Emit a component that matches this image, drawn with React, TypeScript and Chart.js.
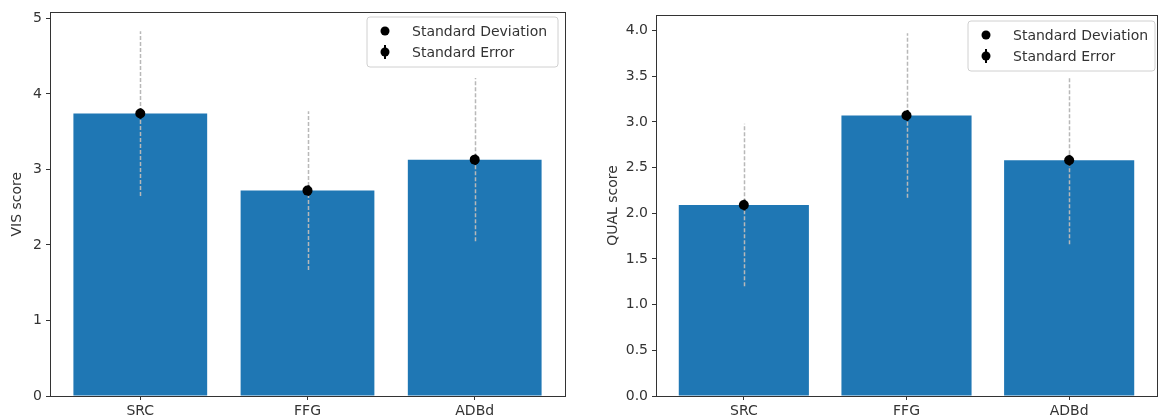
import React, { useEffect, useRef } from "react";
import { Chart, registerables } from "chart.js";

Chart.register(...registerables);

const categories = ["SRC", "FFG", "ADBd"];
const categoryPositions = [0, 1, 2];

const visMeans = [3.74, 2.72, 3.13];
const visSD = [1.09, 1.05, 1.08];
const visSE = [0.07, 0.07, 0.07];
const visTicks = [0, 1, 2, 3, 4, 5];
const visMax = 5.08;

const qualMeans = [2.09, 3.07, 2.58];
const qualSD = [0.89, 0.9, 0.92];
const qualSE = [0.06, 0.06, 0.06];
const qualTicks = [0, 0.5, 1.0, 1.5, 2.0, 2.5, 3.0, 3.5, 4.0];
const qualMax = 4.17;

const legendLabels = ["Standard Deviation", "Standard Error"];

const BAR_COLOR = "#1f77b4";
const FONT = "'DejaVu Sans', sans-serif";

type PanelProps = {
  means: number[];
  sd: number[];
  se: number[];
  ticks: number[];
  max: number;
  title: string;
  titlePad: number;
  decimals: number;
  axisWidth: number;
  padTop: number;
  padRight: number;
  legend: { x: number; y: number; w: number; h: number };
  width: number;
  left: number;
};

function Panel(p: PanelProps) {
  const ref = useRef<HTMLCanvasElement | null>(null);
  useEffect(() => {
    if (!ref.current) return;
    const errPlugin = {
      id: "errbars",
      afterDatasetDraw(chart: any, args: any) {
        if (args.index !== 0) return;
        const { ctx } = chart;
        const xs = chart.scales.x;
        const ys = chart.scales.y;
        ctx.save();
        p.means.forEach((m, i) => {
          const x = Math.round(xs.getPixelForValue(categoryPositions[i])) + 0.5;
          ctx.strokeStyle = "#b8b8b8";
          ctx.lineWidth = 1.5;
          ctx.setLineDash([4, 2]);
          ctx.beginPath();
          ctx.moveTo(x, ys.getPixelForValue(m - p.sd[i]));
          ctx.lineTo(x, ys.getPixelForValue(m + p.sd[i]));
          ctx.stroke();
          ctx.setLineDash([]);
          ctx.strokeStyle = "#000";
          ctx.lineWidth = 2;
          ctx.beginPath();
          ctx.moveTo(x, ys.getPixelForValue(m - p.se[i]));
          ctx.lineTo(x, ys.getPixelForValue(m + p.se[i]));
          ctx.stroke();
        });
        ctx.restore();
      },
      afterDraw(chart: any) {
        const { ctx, chartArea } = chart;
        ctx.save();
        ctx.strokeStyle = "#333";
        ctx.lineWidth = 1;
        ctx.strokeRect(
          Math.round(chartArea.left) + 0.5,
          Math.round(chartArea.top) + 0.5,
          Math.round(chartArea.right - chartArea.left),
          Math.round(chartArea.bottom - chartArea.top)
        );
        const L = p.legend;
        ctx.strokeStyle = "#d0d0d0";
        ctx.fillStyle = "rgba(255,255,255,0.8)";
        ctx.lineWidth = 1;
        const r = 3;
        ctx.beginPath();
        ctx.moveTo(L.x + r, L.y);
        ctx.arcTo(L.x + L.w, L.y, L.x + L.w, L.y + L.h, r);
        ctx.arcTo(L.x + L.w, L.y + L.h, L.x, L.y + L.h, r);
        ctx.arcTo(L.x, L.y + L.h, L.x, L.y, r);
        ctx.arcTo(L.x, L.y, L.x + L.w, L.y, r);
        ctx.closePath();
        ctx.fill();
        ctx.stroke();
        ctx.font = `14px ${FONT}`;
        ctx.textBaseline = "middle";
        legendLabels.forEach((lab, i) => {
          const cy = L.y + 14 + i * 21;
          const cx = L.x + 18;
          ctx.fillStyle = "#000";
          ctx.beginPath();
          ctx.arc(cx, cy, 4.5, 0, Math.PI * 2);
          ctx.fill();
          if (i === 1) {
            ctx.strokeStyle = "#000";
            ctx.lineWidth = 2;
            ctx.beginPath();
            ctx.moveTo(cx, cy - 7);
            ctx.lineTo(cx, cy + 7);
            ctx.stroke();
          }
          ctx.fillStyle = "#333";
          ctx.fillText(lab, L.x + 45, cy + 1);
        });
        ctx.restore();
      },
    };

    const chart = new Chart(ref.current, {
      type: "bar",
      data: {
        datasets: [
          {
            type: "bar",
            data: p.means.map((m, i) => ({ x: categoryPositions[i], y: m })),
            backgroundColor: BAR_COLOR,
            borderWidth: 0,
            barPercentage: 0.8,
            categoryPercentage: 1.0,
            order: 2,
          } as any,
          {
            type: "line",
            data: p.means.map((m, i) => ({ x: categoryPositions[i], y: m })),
            showLine: false,
            pointRadius: 5,
            pointBackgroundColor: "#000",
            pointBorderColor: "#000",
            pointBorderWidth: 0,
            order: 1,
          } as any,
        ],
      },
      options: {
        animation: false,
        responsive: false,
        maintainAspectRatio: false,
        layout: { padding: { top: p.padTop, right: p.padRight, left: 0, bottom: 0 } },
        plugins: { legend: { display: false }, tooltip: { enabled: false } },
        scales: {
          x: {
            type: "linear",
            min: -0.54,
            max: 2.54,
            offset: false,
            afterBuildTicks: (s: any) => {
              s.ticks = categoryPositions.map((v) => ({ value: v }));
            },
            afterFit: (s: any) => {
              s.height = 22;
            },
            ticks: {
              callback: (v: any) => categories[categoryPositions.indexOf(Number(v))] ?? "",
              font: { family: FONT, size: 14 },
              color: "#333",
              padding: 3,
              maxRotation: 0,
              autoSkip: false,
            },
            grid: { display: true, offset: false, drawOnChartArea: false, drawTicks: true, tickLength: 4, color: "#333" },
            border: { display: true, color: "#333", width: 1 },
          },
          y: {
            min: 0,
            max: p.max,
            afterBuildTicks: (s: any) => {
              s.ticks = p.ticks.map((v) => ({ value: v }));
            },
            afterFit: (s: any) => {
              s.width = p.axisWidth;
            },
            ticks: {
              callback: (v: any) => Number(v).toFixed(p.decimals),
              font: { family: FONT, size: 14 },
              color: "#333",
              padding: 4,
            },
            title: {
              display: true,
              text: p.title,
              font: { family: FONT, size: 14 },
              color: "#333",
              padding: { top: p.titlePad, bottom: 4 },
            },
            grid: { display: true, offset: false, drawOnChartArea: false, drawTicks: true, tickLength: 4, color: "#333" },
            border: { display: true, color: "#333", width: 1 },
          },
        },
      } as any,
      plugins: [errPlugin],
    });
    return () => chart.destroy();
  }, []);
  return (
    <canvas
      ref={ref}
      width={p.width}
      height={418}
      style={{ position: "absolute", left: p.left, top: 0, width: p.width, height: 418 }}
    />
  );
}

export default function App() {
  return (
    <div style={{ position: "absolute", left: 0, top: 0, width: 1162, height: 418, background: "#fff" }}>
      <Panel
        means={visMeans}
        sd={visSD}
        se={visSE}
        ticks={visTicks}
        max={visMax}
        title="VIS score"
        titlePad={9}
        decimals={0}
        axisWidth={50}
        padTop={12}
        padRight={35}
        legend={{ x: 367, y: 17, w: 191, h: 50 }}
        width={600}
        left={0}
      />
      <Panel
        means={qualMeans}
        sd={qualSD}
        se={qualSE}
        ticks={qualTicks}
        max={qualMax}
        title="QUAL score"
        titlePad={5}
        decimals={1}
        axisWidth={56}
        padTop={15}
        padRight={4}
        legend={{ x: 368, y: 21, w: 187, h: 50 }}
        width={562}
        left={600}
      />
    </div>
  );
}
